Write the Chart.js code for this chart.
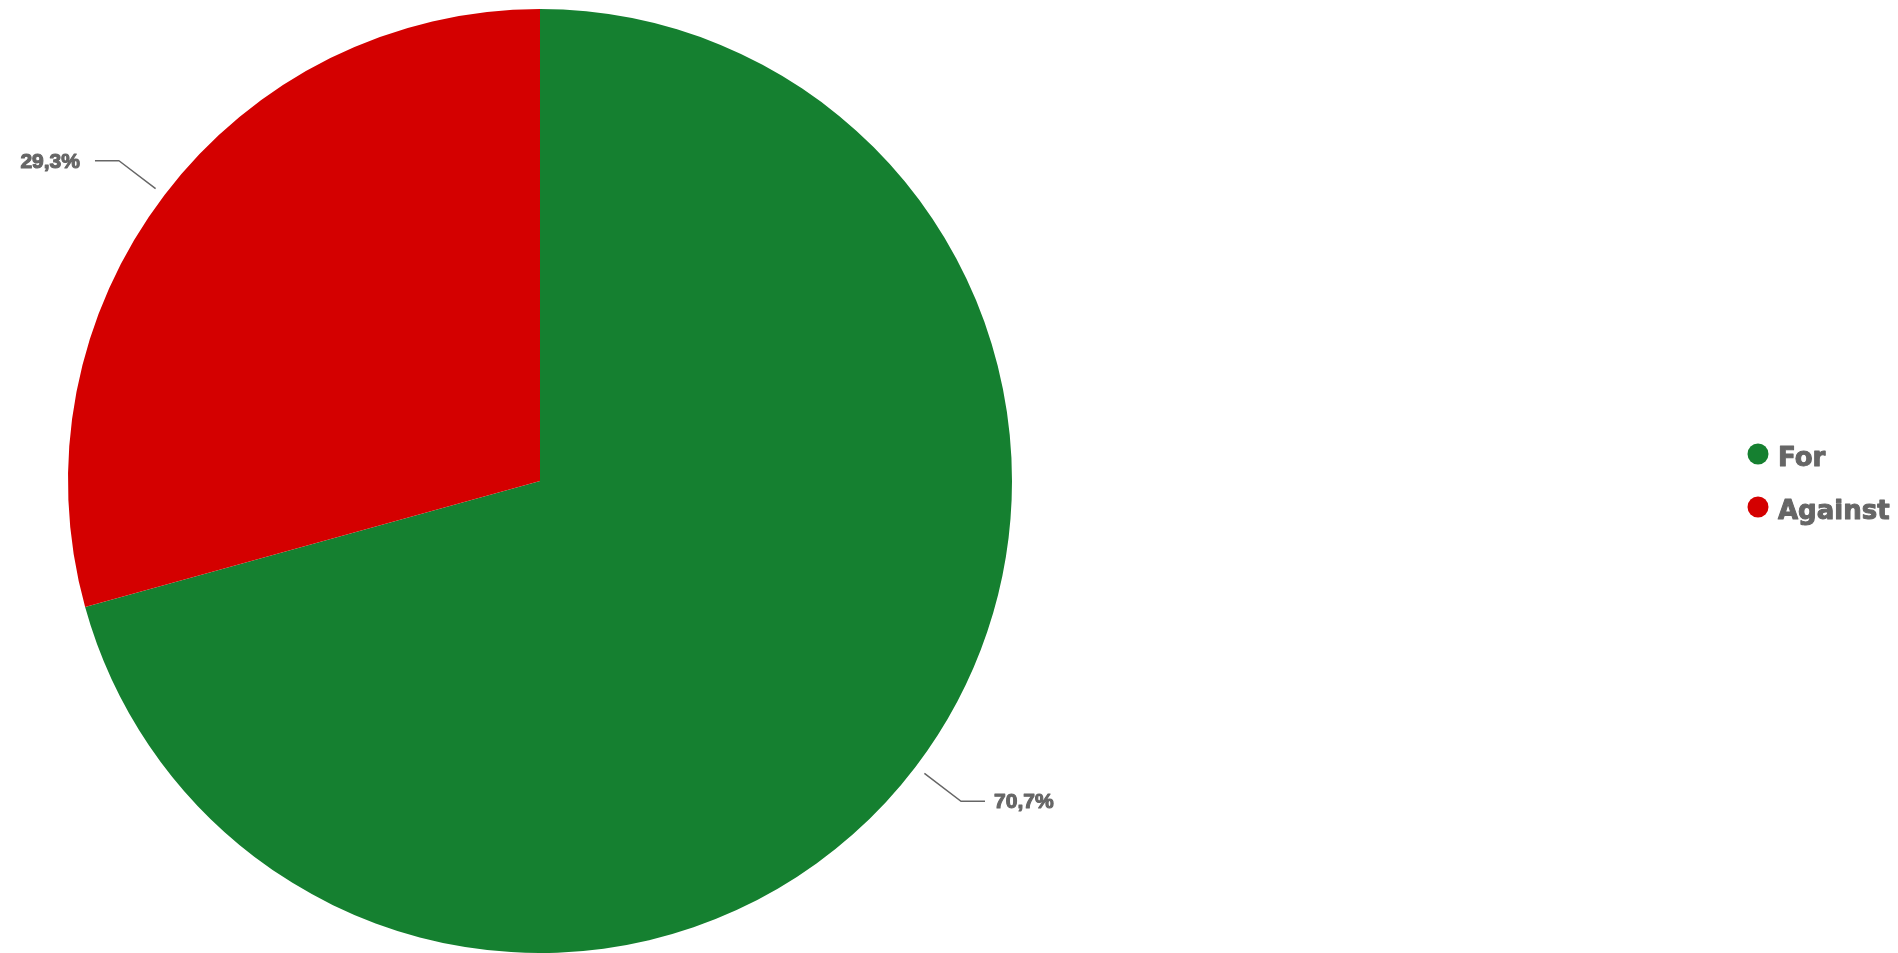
<!DOCTYPE html>
<html>
<head>
<meta charset="utf-8">
<style>
  html, body { margin: 0; padding: 0; background: #fff; }
  #wrap { width: 1898px; height: 953px; }
</style>
<script src="https://cdn.jsdelivr.net/npm/chart.js@4/dist/chart.umd.min.js"></script>
</head>
<body>
<div id="wrap"><canvas id="pie" width="1898" height="953"></canvas></div>
<script>
const labels = ["For", "Against"];
const shares = [70.7, 29.3];
const colors = ["#158030", "#d40000"];
const textColor = "#666666";

// leader lines + percentage labels, and the legend on the right
const calloutPlugin = {
  id: "callouts",
  afterDraw(chart) {
    const ctx = chart.ctx;
    const arcs = chart.getDatasetMeta(0).data;
    ctx.save();
    arcs.forEach((arc, i) => {
      const mid = (arc.startAngle + arc.endAngle) / 2;
      const cos = Math.cos(mid), sin = Math.sin(mid);
      const r0 = arc.outerRadius + 11;
      const r1 = arc.outerRadius + 57;
      const x0 = arc.x + cos * r0, y0 = arc.y + sin * r0;
      const x1 = arc.x + cos * r1, y1 = arc.y + sin * r1;
      const dir = cos >= 0 ? 1 : -1;
      const x2 = x1 + dir * 24;
      ctx.strokeStyle = textColor;
      ctx.lineWidth = 1.5;
      ctx.beginPath();
      ctx.moveTo(x0, y0);
      ctx.lineTo(x1, y1);
      ctx.lineTo(x2, y1);
      ctx.stroke();
      const txt = shares[i].toFixed(1).replace(".", ",") + "%";
      ctx.font = "bold 21px 'Liberation Sans', Arial, sans-serif";
      ctx.fillStyle = textColor;
      ctx.lineWidth = 1.1;
      ctx.lineJoin = "round";
      ctx.textBaseline = "middle";
      ctx.textAlign = dir > 0 ? "left" : "right";
      const tx = x2 + dir * (dir > 0 ? 9 : 15);
      ctx.strokeText(txt, tx, y1 + 1);
      ctx.fillText(txt, tx, y1 + 1);
    });

    // legend
    const lx = 1758, ly = 454, step = 53;
    ctx.font = "bold 26px 'DejaVu Sans', sans-serif";
    ctx.textAlign = "left";
    ctx.textBaseline = "alphabetic";
    labels.forEach((lab, i) => {
      const y = ly + i * step;
      ctx.fillStyle = colors[i];
      ctx.beginPath();
      ctx.arc(lx, y, 10.5, 0, Math.PI * 2);
      ctx.fill();
      ctx.fillStyle = textColor;
      ctx.strokeStyle = textColor;
      ctx.lineWidth = 1;
      ctx.strokeText(lab, lx + 20, y + 12);
      ctx.fillText(lab, lx + 20, y + 12);
    });
    ctx.restore();
  }
};

new Chart(document.getElementById("pie").getContext("2d"), {
  type: "pie",
  data: {
    labels,
    datasets: [{
      data: shares,
      backgroundColor: colors,
      borderWidth: 0
    }]
  },
  options: {
    responsive: false,
    animation: false,
    layout: { padding: { left: 68, right: 886, top: 9, bottom: 0 } },
    plugins: {
      legend: { display: false },
      tooltip: { enabled: false }
    }
  },
  plugins: [calloutPlugin]
});
</script>
</body>
</html>
